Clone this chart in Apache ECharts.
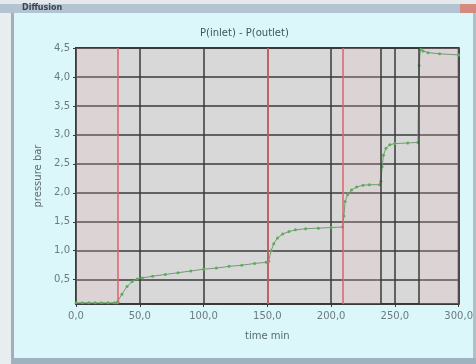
<!DOCTYPE html>
<html><head><meta charset="utf-8">
<script src="https://cdn.jsdelivr.net/npm/echarts@6/dist/echarts.min.js"></script>
<style>html,body{margin:0;padding:0;background:#dcf7f9}#c{width:476px;height:364px}</style>
</head><body><div id="c"></div>
<script>
var chartTitle = 'P(inlet) - P(outlet)';
var windowTitle = 'Diffusion';
var xName = 'time min';
var yName = 'pressure bar';
var yTicks = [0.5, 1.0, 1.5, 2.0, 2.5, 3.0, 3.5, 4.0, 4.5];
var times = [0, 5, 10, 15, 20, 25, 30, 32, 33, 36, 40, 44, 48, 52, 60, 70, 80, 90, 100, 110, 120, 130, 140, 149,
  151, 153, 155, 158, 162, 167, 172, 180, 190, 200, 209, 210, 211, 213, 216, 220, 225, 230, 238,
  239, 240, 241, 243, 246, 250, 260, 268, 269, 270, 272, 276, 285, 300];
var pressures = [0.1, 0.1, 0.1, 0.1, 0.1, 0.1, 0.1, 0.1, 0.12, 0.25, 0.38, 0.47, 0.51, 0.53, 0.56, 0.59, 0.62, 0.65, 0.68, 0.7, 0.73, 0.75, 0.78, 0.8,
  0.82, 1.0, 1.12, 1.22, 1.29, 1.33, 1.36, 1.38, 1.39, 1.4, 1.41, 1.6, 1.85, 1.97, 2.05, 2.1, 2.13, 2.14, 2.14,
  2.2, 2.45, 2.65, 2.77, 2.83, 2.85, 2.86, 2.87, 4.2, 4.48, 4.45, 4.42, 4.4, 4.38];
var redEvents = [33, 150, 209];
var darkEvents = [239, 269];
var shadedRanges = [[0, 33], [209, 239], [269, 300]];

function comma(v){ return Number(v).toFixed(1).replace('.', ','); }
var data = times.map(function(t, i){ return [t, pressures[i]]; });
var font = 'DejaVu Sans';
var chart = echarts.init(document.getElementById('c'));
var markLines = redEvents.map(function(t){ return {xAxis: t, lineStyle: {color: '#e0606a', width: 1.5, type: 'solid'}}; })
  .concat(darkEvents.map(function(t){ return {xAxis: t, lineStyle: {color: '#3a3a3a', width: 1.5, type: 'solid'}}; }));
chart.setOption({
  backgroundColor: '#dcf7f9',
  animation: false,
  graphic: [
    {type: 'rect', shape: {x: 0, y: 0, width: 476, height: 4}, style: {fill: '#e6e9ec'}},
    {type: 'rect', shape: {x: 0, y: 4, width: 476, height: 9}, style: {fill: '#b3c3d0'}},
    {type: 'text', left: 22, top: 4, style: {text: windowTitle, fill: '#3a4550', font: 'bold 8px ' + font}},
    {type: 'rect', shape: {x: 0, y: 13, width: 11, height: 351}, style: {fill: '#e8eef0'}},
    {type: 'rect', shape: {x: 11, y: 13, width: 3, height: 351}, style: {fill: '#9fb0b8'}},
    {type: 'rect', shape: {x: 473, y: 13, width: 3, height: 351}, style: {fill: '#b0c0c8'}},
    {type: 'rect', shape: {x: 11, y: 358, width: 465, height: 6}, style: {fill: '#9fb2bf'}},
    {type: 'rect', shape: {x: 460, y: 4, width: 16, height: 9}, style: {fill: '#d58a80'}},
    {type: 'text', left: 200, top: 28, style: {text: chartTitle, fill: '#3d5562', font: '10px ' + font}}
  ],
  grid: {left: 76, right: 15, top: 48, bottom: 60, show: true, backgroundColor: '#d8d8d8', borderColor: '#3a3a3a', borderWidth: 2},
  xAxis: {
    type: 'value', min: 0, max: 300, interval: 50,
    name: xName, nameLocation: 'middle', nameGap: 27,
    nameTextStyle: {color: '#5a6a70', fontFamily: font, fontSize: 10},
    axisLine: {show: false},
    axisTick: {show: true, length: 3, lineStyle: {color: '#3a3a3a'}},
    axisLabel: {formatter: comma, color: '#6a7a80', fontFamily: font, fontSize: 10, margin: 7},
    splitLine: {show: true, lineStyle: {color: '#3a3a3a', width: 1.5}}
  },
  yAxis: {
    type: 'value', min: 0.08, max: 4.5,
    name: yName, nameLocation: 'middle', nameGap: 30,
    nameTextStyle: {color: '#5a6a70', fontFamily: font, fontSize: 10},
    axisLine: {show: false},
    axisTick: {show: true, length: 3, customValues: yTicks, lineStyle: {color: '#3a3a3a'}},
    axisLabel: {customValues: yTicks, formatter: comma, color: '#6a7a80', fontFamily: font, fontSize: 10, margin: 6},
    splitLine: {show: true, lineStyle: {color: '#3a3a3a', width: 1.5}}
  },
  series: [{
    type: 'line', data: data,
    symbol: 'circle', symbolSize: 3,
    itemStyle: {color: '#55b055'},
    lineStyle: {color: '#7a957a', width: 1},
    markLine: {silent: true, symbol: 'none', label: {show: false}, data: markLines},
    markArea: {silent: true, itemStyle: {color: 'rgba(240,195,205,0.2)'},
      data: shadedRanges.map(function(r){ return [{xAxis: r[0]}, {xAxis: r[1]}]; })}
  }]
});
</script></body></html>
